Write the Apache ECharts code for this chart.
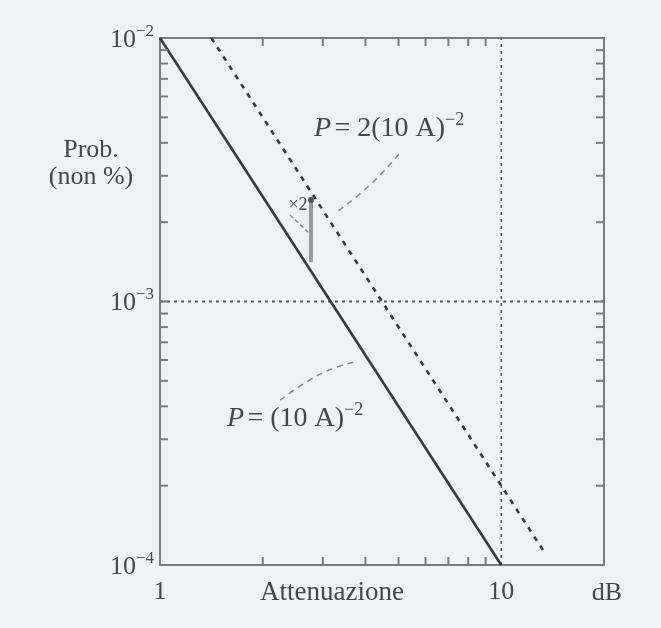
<!DOCTYPE html>
<html>
<head>
<meta charset="utf-8">
<script src="https://cdn.jsdelivr.net/npm/echarts@6/dist/echarts.min.js"></script>
<style>
  html, body { margin: 0; padding: 0; background: #eef2f5; }
  #chart { width: 661px; height: 628px; }
</style>
</head>
<body>
<div id="chart"></div>
<script>
// Attenuation (dB) and outage probability, log–log
const attenuationSolid = [1, 10];
const probSolid = [0.01, 0.0001];              // P = (10 A)^-2
const attenuationDashed = [1.414, 13.5];
const probDashed = [0.01, 0.0001097];          // P = 2(10 A)^-2
const ratioA = 2.77;                            // the "×2" bracket between the two lines
const ratioP = [0.00243, 0.00141];
const upperLeaderA = [5.01, 4.15, 3.30];
const upperLeaderP = [0.00363, 0.00279, 0.00219];
const lowerLeaderA = [2.25, 2.63, 3.13, 3.70];
const lowerLeaderP = [0.000422, 0.000486, 0.00055, 0.000589];
const guideProb = 0.001;
const guideAtten = 10;
const xMinorTicks = [2, 3, 4, 5, 6, 7, 8, 9];
const yMinorTicks = [0.0002, 0.0003, 0.0004, 0.0005, 0.0006, 0.0007, 0.0008, 0.0009, 0.001,
                     0.002, 0.003, 0.004, 0.005, 0.006, 0.007, 0.008, 0.009];
const xTickLabels = [1, 10];
const xMin = 1, xMax = 20, yMin = 0.0001, yMax = 0.01;

const ink = '#3a3a3a';
const textInk = '#474747';
const frame = '#7b7b7b';
const serif = '"Liberation Serif", "DejaVu Serif", serif';

const zip = (a, b) => a.map((v, i) => [v, b[i]]);

const chart = echarts.init(document.getElementById('chart'));

function tickLine(x1, y1, x2, y2) {
  return { type: 'line', shape: { x1, y1, x2, y2 }, style: { stroke: frame, lineWidth: 2 } };
}

const supRich = size => ({
  i: { font: 'italic ' + size + 'px ' + serif, fill: textInk, lineHeight: 32, verticalAlign: 'bottom' },
  b: { font: size + 'px ' + serif, fill: textInk, lineHeight: 32, verticalAlign: 'bottom' },
  s: { font: Math.round(size * 0.64) + 'px ' + serif, fill: textInk, lineHeight: 32, verticalAlign: 'top' }
});

chart.setOption({
  backgroundColor: '#eef2f5',
  animation: false,
  grid: { left: 160, right: 57, top: 38, bottom: 63, show: true, borderColor: frame, borderWidth: 2, backgroundColor: 'transparent' },
  xAxis: {
    type: 'log', logBase: 10, min: xMin, max: xMax,
    axisLine: { show: false }, axisTick: { show: false }, splitLine: { show: false }, minorTick: { show: false },
    axisLabel: {
      margin: 14, color: textInk, fontFamily: serif, fontSize: 26,
      formatter: v => (xTickLabels.includes(Math.round(v)) && Math.abs(v - Math.round(v)) < 1e-6 ? String(Math.round(v)) : '')
    }
  },
  yAxis: {
    type: 'log', logBase: 10, min: yMin, max: yMax,
    axisLine: { show: false }, axisTick: { show: false }, splitLine: { show: false },
    axisLabel: {
      margin: 6, color: textInk, fontFamily: serif,
      formatter: v => '{b|10}{s|−' + Math.round(-Math.log10(v)) + '}',
      rich: {
        b: { fontSize: 26, fontFamily: serif, color: textInk, lineHeight: 30, verticalAlign: 'bottom' },
        s: { fontSize: 17, fontFamily: serif, color: textInk, lineHeight: 30, verticalAlign: 'top' }
      }
    }
  },
  series: [
    {
      // reference grid: 10^-3 across, 10 dB down
      type: 'line', data: [[xMin, guideProb], [xMax, guideProb]], showSymbol: false, silent: true,
      lineStyle: { color: '#5a5a5a', width: 1.8, type: [3, 4] }
    },
    {
      type: 'line', data: [[guideAtten, yMin], [guideAtten, yMax]], showSymbol: false, silent: true,
      lineStyle: { color: '#5a5a5a', width: 1.6, type: [3, 4] }
    },
    {
      type: 'line', data: zip(attenuationSolid, probSolid), showSymbol: false,
      lineStyle: { color: ink, width: 2.6 }
    },
    {
      type: 'line', data: zip(attenuationDashed, probDashed), showSymbol: false,
      lineStyle: { color: ink, width: 2.6, type: [5, 6] }
    },
    {
      // factor-of-two bracket
      type: 'line',
      data: [
        { value: [ratioA, ratioP[0]], symbol: 'circle', symbolSize: 6 },
        { value: [ratioA, ratioP[1]], symbol: 'none' }
      ],
      showSymbol: true, itemStyle: { color: '#555' },
      lineStyle: { color: '#9a9a9a', width: 4 }
    },
    {
      type: 'line', data: zip(upperLeaderA, upperLeaderP), showSymbol: false, smooth: true,
      lineStyle: { color: '#8a8a8a', width: 1.6, type: [6, 5] }
    },
    {
      type: 'line', data: zip(lowerLeaderA, lowerLeaderP), showSymbol: false, smooth: true,
      lineStyle: { color: '#8a8a8a', width: 1.6, type: [6, 5] }
    },
    {
      // minor ticks on bottom and top edges
      type: 'custom', z: 5, silent: true,
      data: xMinorTicks.map(v => [v, yMin]),
      renderItem: (params, api) => {
        const x = api.value(0);
        const b = api.coord([x, yMin]);
        const t = api.coord([x, yMax]);
        return { type: 'group', children: [tickLine(b[0], b[1], b[0], b[1] - 8), tickLine(t[0], t[1], t[0], t[1] + 8)] };
      }
    },
    {
      // minor ticks on left and right edges
      type: 'custom', z: 5, silent: true,
      data: yMinorTicks.map(v => [xMin, v]),
      renderItem: (params, api) => {
        const y = api.value(1);
        const l = api.coord([xMin, y]);
        const r = api.coord([xMax, y]);
        return { type: 'group', children: [tickLine(l[0], l[1], l[0] + 8, l[1]), tickLine(r[0], r[1], r[0] - 8, r[1])] };
      }
    }
  ],
  graphic: [
    { type: 'text', x: 91, y: 150, style: { text: 'Prob.', font: '26px ' + serif, fill: textInk, align: 'center', verticalAlign: 'middle' } },
    { type: 'text', x: 91, y: 177, style: { text: '(non %)', font: '26px ' + serif, fill: textInk, align: 'center', verticalAlign: 'middle' } },
    { type: 'text', x: 332, y: 593, style: { text: 'Attenuazione', font: '27px ' + serif, fill: textInk, align: 'center', verticalAlign: 'middle' } },
    { type: 'text', x: 607, y: 593, style: { text: 'dB', font: '26px ' + serif, fill: textInk, align: 'center', verticalAlign: 'middle' } },
    { type: 'text', x: 314, y: 127, style: { text: '{i|P} {b|= 2(10 A)}{s|−2}', verticalAlign: 'middle', rich: supRich(28) } },
    { type: 'text', x: 227, y: 417, style: { text: '{i|P} {b|= (10 A)}{s|−2}', verticalAlign: 'middle', rich: supRich(28) } },
    { type: 'text', x: 298, y: 205, style: { text: '×2', font: '18px ' + serif, fill: textInk, align: 'center', verticalAlign: 'middle' } },
    { type: 'line', shape: { x1: 290, y1: 215, x2: 309, y2: 233 }, style: { stroke: '#8a8a8a', lineWidth: 1.4, lineDash: [4, 3] } }
  ]
});
</script>
</body>
</html>
